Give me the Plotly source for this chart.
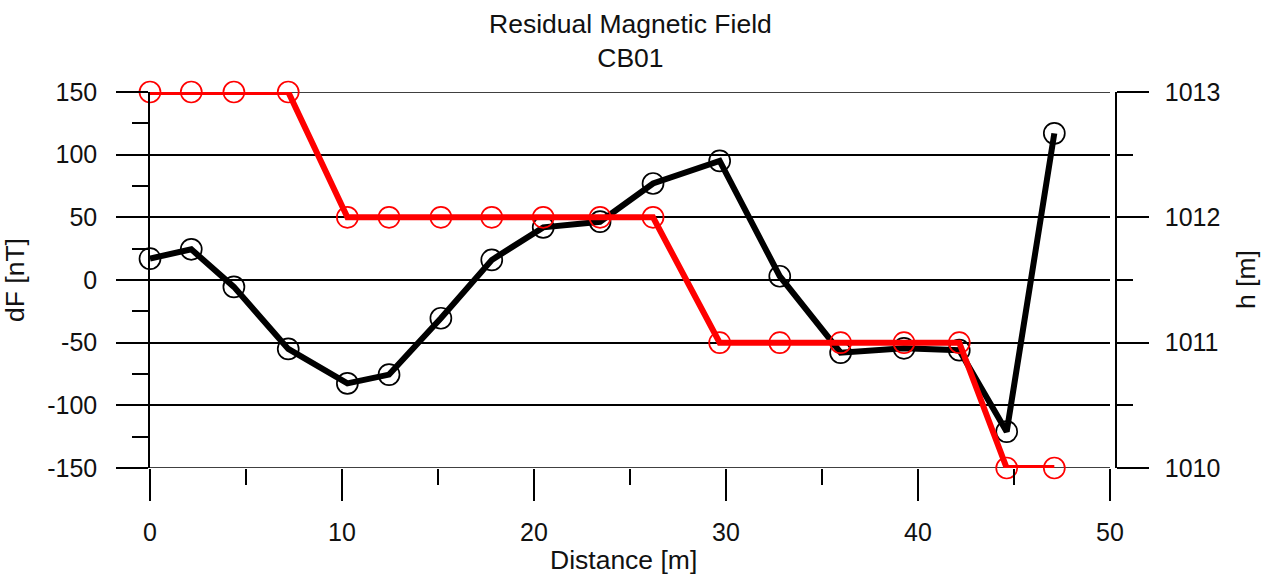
import plotly.graph_objects as go

# Data
distance = [0, 2.15, 4.37, 7.2, 10.28, 12.45, 15.15, 17.8, 20.48, 23.44,
            26.2, 29.67, 32.8, 35.97, 39.27, 42.15, 44.62, 47.1]
dF = [17, 24.5, -5.5, -55, -82.5, -75.5, -30.5, 16, 42, 46.5,
      77, 95, 3, -58, -54.5, -56, -121, 117]
h = [1013, 1013, 1013, 1013, 1012, 1012, 1012, 1012, 1012, 1012,
     1012, 1011, 1011, 1011, 1011, 1011, 1010, 1010]

x_ticks = [0, 10, 20, 30, 40, 50]
x_minor = [5, 15, 25, 35, 45]
y_ticks = [-150, -100, -50, 0, 50, 100, 150]
y_minor = [-125, -75, -25, 25, 75, 125]
y2_ticks = [1010, 1011, 1012, 1013]
y2_minor = [1010.5, 1011.5, 1012.5]

title_lines = ["Residual Magnetic Field", "CB01"]
x_title = "Distance [m]"
y_title = "dF [nT]"
y2_title = "h [m]"

FONT = "Liberation Sans, Arial, sans-serif"
FS_TICK = 25
FS_TITLE = 26.5
TXT = "#111111"

W, H = 1264, 578
L, R, T, B = 150, 148, 92, 110
pw = W - L - R
ph = H - T - B
xdom_end = 960 / pw

fig = go.Figure()
fig.add_trace(go.Scatter(
    x=distance, y=dF, mode="lines+markers", yaxis="y", cliponaxis=False,
    line=dict(color="black", width=6),
    marker=dict(symbol="circle-open", size=21, color="black", line=dict(width=1.7)),
    showlegend=False,
))
fig.add_trace(go.Scatter(
    x=distance, y=h, mode="lines+markers", yaxis="y2", cliponaxis=False,
    line=dict(color="#ff0000", width=6),
    marker=dict(symbol="circle-open", size=21, color="#ff0000", line=dict(width=1.7)),
    showlegend=False,
))

tickfont = dict(family=FONT, size=FS_TICK, color=TXT)
titlefont = dict(family=FONT, size=FS_TITLE, color=TXT)
tk = dict(ticks="outside", ticklen=32, tickwidth=1.5, tickcolor="black")
mn = dict(ticks="outside", ticklen=16, tickwidth=1.5, tickcolor="black")

# grid lines at the range ends (plotly omits grid lines on the plot edges)
edge_grid = [
    dict(type="line", xref="paper", yref="y", x0=0, x1=xdom_end,
         y0=v, y1=v, layer="below", line=dict(color="black", width=1.5))
    for v in (y_ticks[0], y_ticks[-1])
]

fig.update_layout(
    width=W, height=H,
    margin=dict(l=L, r=R, t=T, b=B, pad=0),
    paper_bgcolor="white", plot_bgcolor="white",
    xaxis=dict(
        domain=[0, xdom_end], range=[0, 50], tickmode="array",
        tickvals=x_ticks, ticktext=[str(v) for v in x_ticks], **tk,
        minor=dict(tickmode="array", tickvals=x_minor, **mn),
        showgrid=False, zeroline=False, showline=False,
        tickfont=tickfont, ticklabelstandoff=10,
    ),
    yaxis=dict(
        range=[-150, 150], tickmode="array",
        tickvals=y_ticks, ticktext=[str(v) for v in y_ticks], **tk,
        minor=dict(tickmode="array", tickvals=y_minor, **mn),
        showgrid=True, gridcolor="black", gridwidth=1.5,
        zeroline=False, showline=True, linecolor="black", linewidth=1.5,
        tickfont=tickfont, ticklabelstandoff=14,
    ),
    yaxis2=dict(
        overlaying="y", side="right", anchor="free", position=1,
        range=[1010, 1013], tickmode="array",
        tickvals=y2_ticks, ticktext=[str(v) for v in y2_ticks], **tk,
        minor=dict(tickmode="array", tickvals=y2_minor, **mn),
        showgrid=False, zeroline=False, showline=True, linecolor="black", linewidth=1.5,
        tickfont=tickfont, ticklabelstandoff=11,
    ),
    shapes=edge_grid,
    annotations=[
        dict(text="<br>".join(title_lines), xref="paper", yref="paper",
             x=(630 - L) / pw, y=(H - B - 41) / ph, xanchor="center", yanchor="middle",
             showarrow=False, font=titlefont),
        dict(text=x_title, xref="paper", yref="paper",
             x=(623 - L) / pw, y=(H - B - 560) / ph, xanchor="center", yanchor="middle",
             showarrow=False, font=titlefont),
        dict(text=y_title, xref="paper", yref="paper", textangle=-90,
             x=(15 - L) / pw, y=(H - B - 280) / ph, xanchor="center", yanchor="middle",
             showarrow=False, font=titlefont),
        dict(text=y2_title, xref="paper", yref="paper", textangle=-90,
             x=(1246 - L) / pw, y=(H - B - 280) / ph, xanchor="center", yanchor="middle",
             showarrow=False, font=titlefont),
    ],
)

fig.write_html("out.html")
